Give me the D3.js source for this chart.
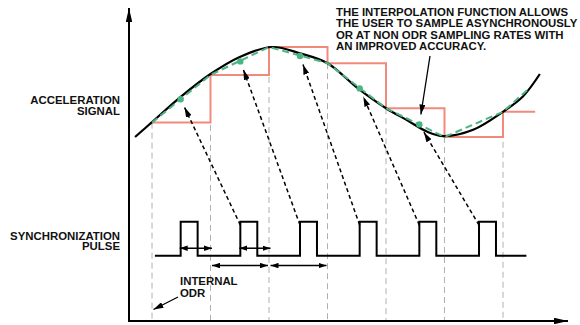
<!DOCTYPE html>
<html><head><meta charset="utf-8">
<script src="https://cdn.jsdelivr.net/npm/d3@7"></script>
<style>
body{margin:0;background:#fff}
text{font-family:"Liberation Sans",Arial,Helvetica,sans-serif;font-weight:bold;font-size:11.4px;fill:#111}
</style>
</head><body>
<svg id="c" width="580" height="325"></svg>
<script>
// ---------- data ----------
const odrTimes = [1, 2, 3, 4, 5, 6, 7];
const sampleValues = [16, 69, 100, 82, 32, 0, 28];
const stepEndTime = 7.55;
const curveTimes  = [0.71, 1.0, 1.48, 2.0, 2.5, 3.05, 3.53, 4.0, 4.52, 5.0, 5.35, 5.7, 5.98, 6.49, 7.0, 7.34, 7.63];
const curveValues = [0, 16.5, 44, 70, 89, 100, 93, 82, 54, 32, 19, 6, 1, 8, 28, 45, 70];
const syncTimes = [1.49, 2.51, 3.53, 4.55, 5.57, 6.59];
const pulseWidth = 0.29;
const pulseLineStart = 1.05, pulseLineEnd = 7.4;
const dotValues = [42, 84, 90, 54, 14];
const greenTailTime = 7.43, greenTailValue = 53;
const signalLabel = ["ACCELERATION", "SIGNAL"];
const pulseLabel = ["SYNCHRONIZATION", "PULSE"];
const odrLabel = ["INTERNAL", "ODR"];
const noteLines = ["THE INTERPOLATION FUNCTION ALLOWS", "THE USER TO SAMPLE ASYNCHRONOUSLY", "OR AT NON ODR SAMPLING RATES WITH", "AN IMPROVED ACCURACY."];

// ---------- scales ----------
const svg = d3.select("#c");
const x = d3.scaleLinear().domain([0, 8]).range([93.5, 561.5]);
const yS = d3.scaleLinear().domain([0, 100]).range([137, 47]);
const yP = d3.scaleLinear().domain([0, 1]).range([255.7, 221.7]);
const axisX = 129, axisY = 321;

const RED = "#f28a7c", GREEN = "#4cb383", GRAY = "#b0b0b0";

const defs = svg.append("defs");
function marker(id, len, wid) {
  defs.append("marker").attr("id", id).attr("markerUnits", "userSpaceOnUse")
    .attr("markerWidth", len).attr("markerHeight", wid)
    .attr("refX", len).attr("refY", wid / 2)
    .attr("orient", "auto-start-reverse")
    .attr("viewBox", `0 0 ${len} ${wid}`)
    .append("path").attr("d", `M0,0L${len},${wid / 2}L0,${wid}Z`).attr("fill", "#000");
}
marker("ax", 14, 6.5);
marker("da", 10, 6);
marker("dbl", 8, 5.5);

// ODR dashed gray lines
svg.append("g").selectAll("line").data(odrTimes).join("line")
  .attr("x1", d => x(d)).attr("x2", d => x(d))
  .attr("y1", (d, i) => yS(sampleValues[i])).attr("y2", axisY)
  .attr("stroke", GRAY).attr("stroke-width", 1).attr("stroke-dasharray", "6,4");

// red sample-and-hold steps
const stepPts = odrTimes.map((t, i) => [t, sampleValues[i]]).concat([[stepEndTime, sampleValues[sampleValues.length - 1]]]);
svg.append("path").datum(stepPts)
  .attr("d", d3.line().x(d => x(d[0])).y(d => yS(d[1])).curve(d3.curveStepAfter))
  .attr("fill", "none").attr("stroke", RED).attr("stroke-width", 2);

// black acceleration curve
svg.append("path").datum(curveTimes.map((t, i) => [t, curveValues[i]]))
  .attr("d", d3.line().x(d => x(d[0])).y(d => yS(d[1])).curve(d3.curveCatmullRom.alpha(0.5)))
  .attr("fill", "none").attr("stroke", "#000").attr("stroke-width", 2.2);

// green interpolation line
const greenPts = odrTimes.map((t, i) => [t, sampleValues[i]]).concat([[greenTailTime, greenTailValue]]);
svg.append("path").datum(greenPts)
  .attr("d", d3.line().x(d => x(d[0])).y(d => yS(d[1])))
  .attr("fill", "none").attr("stroke", GREEN).attr("stroke-width", 2).attr("stroke-dasharray", "7,4");

// green dots
svg.append("g").selectAll("circle").data(dotValues).join("circle")
  .attr("cx", (d, i) => x(syncTimes[i])).attr("cy", d => yS(d)).attr("r", 3.2).attr("fill", GREEN);

// sync pulse train
const pulsePts = [[pulseLineStart, 0]];
syncTimes.forEach(s => { pulsePts.push([s, 0], [s, 1], [s + pulseWidth, 1], [s + pulseWidth, 0]); });
pulsePts.push([pulseLineEnd, 0]);
svg.append("path").datum(pulsePts)
  .attr("d", d3.line().x(d => x(d[0])).y(d => yP(d[1])))
  .attr("fill", "none").attr("stroke", "#000").attr("stroke-width", 2);

// dashed arrows from pulse to interpolated point
function shorten(x1, y1, x2, y2, by) {
  const dx = x2 - x1, dy = y2 - y1, L = Math.hypot(dx, dy);
  return [x2 - dx / L * by, y2 - dy / L * by];
}
dotValues.forEach((v, i) => {
  const x1 = x(syncTimes[i + 1]), y1 = yP(0.9);
  const [x2, y2] = shorten(x1, y1, x(syncTimes[i]), yS(v), 9);
  svg.append("line").attr("x1", x1).attr("y1", y1).attr("x2", x2).attr("y2", y2)
    .attr("stroke", "#000").attr("stroke-width", 1.5).attr("stroke-dasharray", "4,3")
    .attr("marker-end", "url(#da)");
});

// double-headed arrows
[[2, 0], [3, 1]].forEach(([t, s]) => {
  svg.append("line").attr("x1", x(t) + 1.5).attr("x2", x(syncTimes[s]) - 1).attr("y1", yP(0.22)).attr("y2", yP(0.22))
    .attr("stroke", "#000").attr("stroke-width", 1.5).attr("marker-start", "url(#dbl)").attr("marker-end", "url(#dbl)");
  svg.append("line").attr("x1", x(t) + 1.5).attr("x2", x(t + 1) - 1).attr("y1", yP(-0.29)).attr("y2", yP(-0.29))
    .attr("stroke", "#000").attr("stroke-width", 1.5).attr("marker-start", "url(#dbl)").attr("marker-end", "url(#dbl)");
});

// axes
svg.append("line").attr("x1", axisX).attr("y1", axisY + 1).attr("x2", axisX).attr("y2", 8)
  .attr("stroke", "#000").attr("stroke-width", 2).attr("marker-end", "url(#ax)");
svg.append("line").attr("x1", axisX - 1).attr("y1", axisY).attr("x2", 568).attr("y2", axisY)
  .attr("stroke", "#000").attr("stroke-width", 2).attr("marker-end", "url(#ax)");

// labels
function lines(arr, x0, y0, dy, anchor) {
  const t = svg.append("text").attr("text-anchor", anchor);
  arr.forEach((s, i) => t.append("tspan").attr("x", x0).attr("y", y0 + i * dy).text(s));
}
lines(signalLabel, 120, 104, 10.5, "end");
lines(pulseLabel, 120, 239.5, 10.5, "end");
lines(odrLabel, 180, 285, 11.7, "start");
lines(noteLines, 336, 16, 11.3, "start");

// annotation arrow to interpolated point
{
  const tx = x(syncTimes[4]), ty = yS(dotValues[4]);
  const [x2, y2] = shorten(430, 56, tx, ty, 10);
  svg.append("line").attr("x1", 430).attr("y1", 56).attr("x2", x2).attr("y2", y2)
    .attr("stroke", "#000").attr("stroke-width", 1.3).attr("marker-end", "url(#da)");
}
// internal ODR arrow
svg.append("line").attr("x1", 178).attr("y1", 297).attr("x2", x(odrTimes[0]) + 1.5).attr("y2", 309.5)
  .attr("stroke", "#000").attr("stroke-width", 1.3).attr("marker-end", "url(#da)");
</script>
</body></html>
